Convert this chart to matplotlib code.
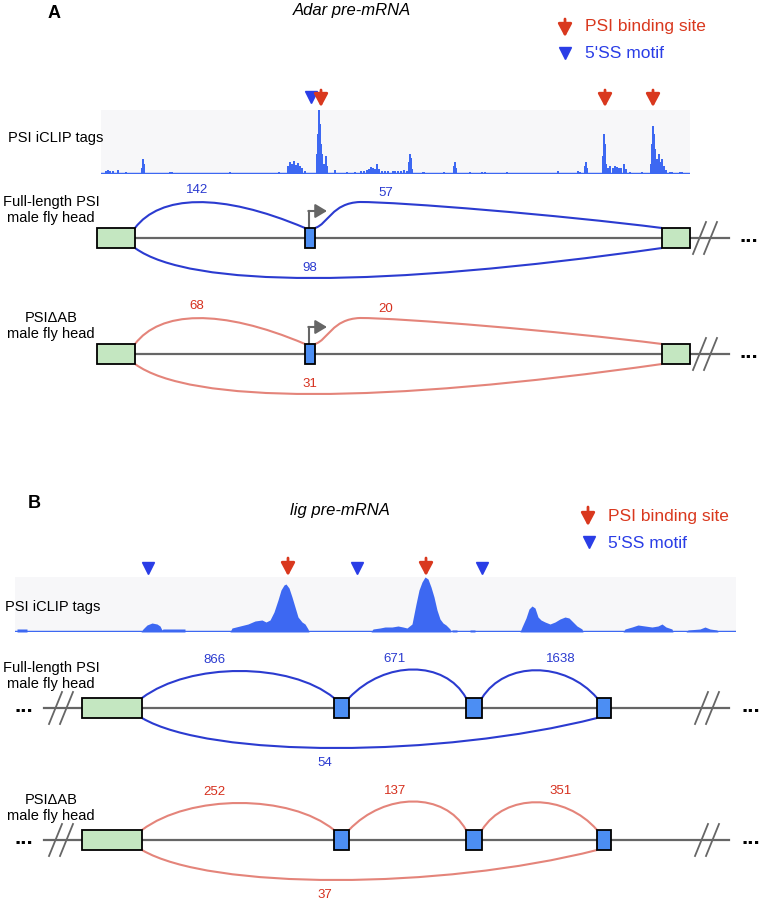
import matplotlib
matplotlib.use("Agg")
import matplotlib.pyplot as plt
from matplotlib.path import Path
from matplotlib.patches import PathPatch, Rectangle

plt.rcParams['font.family'] = ['Liberation Sans', 'DejaVu Sans']

# ---- data ----
adar_sites = [321, 605, 653]          # PSI binding sites (track position)
adar_motifs = [311]                   # 5'SS motifs
lig_sites = [288, 426]
lig_motifs = [148, 357, 482]

adar_full = [142, 57, 98]             # junction reads, full-length PSI
adar_dab = [68, 20, 31]               # junction reads, PSI-deltaAB
lig_full = [866, 671, 1638, 54]
lig_dab = [252, 137, 351, 37]

adar_exons = [(97, 135), (305, 315), (662, 690)]
lig_exons = [(82, 142), (334, 349), (466, 482), (597, 611)]

# iCLIP tag coverage, Adar (position, tags)
adar_pos = [106, 108, 110, 113, 118, 126, 142, 143, 144, 170, 171, 172, 230, 279,
            288, 290, 292, 294, 296, 298, 300, 302, 305, 317, 318, 319, 320, 321,
            322, 324, 326, 327, 335, 347, 355, 361, 364, 367, 369, 371, 373, 375,
            377, 379, 382, 385, 388, 393, 395, 398, 401, 404, 407, 409, 410, 411,
            412, 423, 424, 444, 454, 455, 456, 470, 482, 485, 507, 558, 578, 580,
            585, 586, 587, 603, 604, 605, 606, 608, 610, 613, 615, 617, 619, 621,
            624, 626, 630, 642, 651, 652, 653, 654, 655, 657, 659, 660, 662, 664,
            666, 670, 672, 680, 682]
adar_tags = [3, 4, 3, 3, 4, 2, 6, 15, 10, 2, 2, 2, 2, 2,
             8, 12, 10, 13, 9, 11, 8, 6, 3, 20, 40, 64, 50, 30,
             20, 10, 18, 8, 4, 2, 2, 3, 3, 4, 5, 7, 6, 5,
             10, 5, 3, 3, 3, 3, 3, 3, 3, 4, 3, 12, 20, 16,
             5, 2, 2, 2, 8, 12, 6, 2, 2, 2, 2, 3, 3, 2,
             8, 12, 6, 18, 40, 30, 10, 6, 8, 6, 8, 7, 6, 6,
             10, 5, 2, 2, 10, 30, 48, 40, 25, 15, 20, 12, 15, 8,
             4, 2, 2, 2, 2]

# iCLIP tag coverage, lig (position, tags)
lig_pos = [15, 17, 17, 27, 27,
           141, 143, 147, 152, 157, 160, 162, 163, 185, 185,
           230, 232, 240, 248, 255, 262, 266, 270, 274, 278, 281, 284, 286, 289,
           292, 295, 298, 302, 305, 308, 309,
           371, 373, 380, 385, 392, 398, 403, 407, 412, 416, 419, 422, 425, 428,
           431, 434, 437, 440, 443, 446, 450, 451,
           452, 452, 457, 457, 470, 470, 475, 475,
           520, 522, 526, 529, 532, 535, 538, 541, 545, 550, 555, 560, 565, 569,
           573, 577, 582, 583,
           623, 625, 632, 638, 645, 652, 658, 662, 666, 672, 673,
           686, 688, 700, 705, 710, 717, 718, 736]
lig_tags = [0, 0, 3, 3, 0,
            0, 3, 7, 9, 8, 6, 2, 3, 3, 0,
            0, 4, 6, 8, 11, 12, 10, 12, 20, 32, 42, 47, 48, 44,
            35, 25, 15, 10, 8, 3, 0,
            0, 3, 4, 5, 5, 6, 5, 4, 8, 28, 42, 50, 55, 53,
            45, 35, 22, 13, 9, 7, 3, 0,
            0, 2, 2, 0, 0, 2, 2, 0,
            0, 5, 14, 23, 26, 24, 15, 12, 10, 8, 10, 13, 15, 14,
            10, 6, 3, 0,
            0, 3, 5, 7, 6, 5, 6, 8, 5, 3, 0,
            0, 2, 3, 5, 3, 2, 0, 0]

BLUE = '#2b3bd0'
SALMON = '#e4847a'
RED_NUM = '#d6301e'
ARROW_RED = '#d9381e'
MOTIF_BLUE = '#2a3de6'
TRACK_BLUE = '#3d68f2'
GREEN = '#c4e7c1'
EXON_BLUE = '#4c8ef3'
GREY = '#666666'

W, H = 762, 900
fig = plt.figure(figsize=(W / 100, H / 100), dpi=100)
ax = fig.add_axes([0, 0, 1, 1])
ax.set_xlim(0, W)
ax.set_ylim(H, 0)
ax.axis('off')
ax.set_zorder(3)          # keep labels above the track panels
ax.patch.set_alpha(0)


def track_axes(x0, x1, ytop, ybot, ymax):
    t = fig.add_axes([x0 / W, 1 - ybot / H, (x1 - x0) / W, (ybot - ytop) / H])
    t.set_zorder(1)
    t.set_xlim(x0, x1)
    t.set_ylim(0, ymax)
    t.set_facecolor('#f7f7f9')
    for s in t.spines.values():
        s.set_visible(False)
    t.set_xticks([])
    t.set_yticks([])
    t.axhline(0, color=TRACK_BLUE, lw=2.5)
    return t


def red_arrow(x, ytop, ybot):
    ax.annotate('', xy=(x, ybot), xytext=(x, ytop),
                arrowprops=dict(arrowstyle='-|>,head_length=0.6,head_width=0.32',
                                color=ARROW_RED, lw=2.0, shrinkA=0, shrinkB=0,
                                mutation_scale=13))


def curve(pts, color, lw):
    codes = [Path.MOVETO] + [Path.CURVE4] * (len(pts) - 1)
    ax.add_patch(PathPatch(Path(pts, codes), fill=False, ec=color, lw=lw, zorder=2))


def exon_boxes(exons, y0, last_green):
    for i, (a, b) in enumerate(exons):
        green = (i == 0) or (last_green and i == len(exons) - 1)
        ax.add_patch(Rectangle((a, y0 - 10), b - a, 20, fc=GREEN if green else EXON_BLUE,
                               ec='black', lw=1.3, zorder=4))


def hash_mark(x, y0):
    for dx in (0, 11):
        ax.plot([x + dx, x + dx + 13], [y0 + 16, y0 - 16], color=GREY, lw=1.3, zorder=3)


def dots(x, y0):
    ax.text(x, y0 + 4, '...', fontsize=16, fontweight='bold', ha='center', va='baseline')


def sample_label(text, y):
    ax.text(51, y, text, fontsize=10.5, ha='center', va='center', linespacing=1.25)


def adar_diagram(y0, counts, color, numcolor, label):
    ax.plot([135, 729], [y0, y0], color=GREY, lw=1.6, zorder=1)
    exon_boxes(adar_exons, y0, True)
    hash_mark(693, y0)
    dots(749, y0)
    curve([(135, y0 - 10), (160, y0 - 43), (220, y0 - 46), (305, y0 - 10)], color, 1.5)
    curve([(315, y0 - 10), (328, y0 - 14), (332, y0 - 35), (360, y0 - 36),
           (400, y0 - 36), (560, y0 - 23), (662, y0 - 10)], color, 1.5)
    curve([(135, y0 + 10), (190, y0 + 50), (380, y0 + 50), (662, y0 + 10)], color, 1.5)
    ax.text(197, y0 - 48, str(counts[0]), color=numcolor, fontsize=9.5, ha='center', va='center')
    ax.text(386, y0 - 45, str(counts[1]), color=numcolor, fontsize=9.5, ha='center', va='center')
    ax.text(310, y0 + 30, str(counts[2]), color=numcolor, fontsize=9.5, ha='center', va='center')
    # transcription start arrow
    ax.plot([309, 309], [y0 - 10, y0 - 27], color=GREY, lw=1.5, zorder=3)
    ax.annotate('', xy=(327, y0 - 27), xytext=(308.3, y0 - 27),
                arrowprops=dict(arrowstyle='-|>,head_length=0.5,head_width=0.3',
                                color=GREY, lw=1.5, shrinkA=0, shrinkB=0, mutation_scale=14))
    sample_label(label, y0 - 28)


def lig_diagram(y0, counts, color, numcolor, label):
    ax.plot([44, 729], [y0, y0], color=GREY, lw=1.6, zorder=1)
    exon_boxes(lig_exons, y0, False)
    hash_mark(49, y0)
    hash_mark(695, y0)
    dots(24, y0)
    dots(751, y0)
    curve([(142, y0 - 10), (190, y0 - 46), (290, y0 - 46), (334, y0 - 10)], color, 1.5)
    curve([(349, y0 - 10), (385, y0 - 48), (445, y0 - 48), (466, y0 - 10)], color, 1.5)
    curve([(482, y0 - 10), (505, y0 - 47), (565, y0 - 47), (597, y0 - 10)], color, 1.5)
    curve([(142, y0 + 10), (210, y0 + 50), (440, y0 + 50), (597, y0 + 10)], color, 1.5)
    for x, dy, c in zip([214, 395, 561, 325], [-48, -49, -49, 55], counts):
        ax.text(x, y0 + dy, str(c), color=numcolor, fontsize=9.5, ha='center', va='center')
    sample_label(label, y0 - 32)


# ---- panel A ----
ax.text(54, 13, 'A', fontsize=13, fontweight='bold', ha='center', va='center')
ax.text(352, 11, 'Adar pre-mRNA', fontsize=12, style='italic', ha='center', va='center')
red_arrow(565, 19, 37)
ax.text(585, 27, 'PSI binding site', fontsize=12.5, color=ARROW_RED, va='center')
ax.plot([565], [53], marker='v', ms=9, color=MOTIF_BLUE, ls='none')
ax.text(585, 53, "5'SS motif", fontsize=12.5, color=MOTIF_BLUE, va='center')

for x in adar_sites:
    red_arrow(x, 90, 107)
for x in adar_motifs:
    ax.plot([x], [97], marker='v', ms=8, color=MOTIF_BLUE, ls='none')

ta = track_axes(101, 690, 110, 174, 64)
ta.bar(adar_pos, adar_tags, width=1.6, color=TRACK_BLUE, linewidth=0)
ax.text(8, 138, 'PSI iCLIP tags', fontsize=10.5, va='center')

adar_diagram(238, adar_full, BLUE, BLUE, 'Full-length PSI\nmale fly head')
adar_diagram(354, adar_dab, SALMON, RED_NUM, 'PSI\u0394AB\nmale fly head')

# ---- panel B ----
ax.text(34, 503, 'B', fontsize=13, fontweight='bold', ha='center', va='center')
ax.text(340, 510, 'lig pre-mRNA', fontsize=12, style='italic', ha='center', va='center')
red_arrow(588, 507, 526)
ax.text(608, 516, 'PSI binding site', fontsize=12.5, color=ARROW_RED, va='center')
ax.plot([589], [542], marker='v', ms=9, color=MOTIF_BLUE, ls='none')
ax.text(608, 543, "5'SS motif", fontsize=12.5, color=MOTIF_BLUE, va='center')

for x in lig_sites:
    red_arrow(x, 558, 576)
for x in lig_motifs:
    ax.plot([x], [568], marker='v', ms=8, color=MOTIF_BLUE, ls='none')

tb = track_axes(15, 736, 577, 632, 55)
tb.fill_between(lig_pos, 0, lig_tags, color=TRACK_BLUE, linewidth=0)
ax.text(5, 607, 'PSI iCLIP tags', fontsize=10.5, va='center')

lig_diagram(708, lig_full, BLUE, BLUE, 'Full-length PSI\nmale fly head')
lig_diagram(840, lig_dab, SALMON, RED_NUM, 'PSI\u0394AB\nmale fly head')

fig.savefig('out.png', dpi=100)
